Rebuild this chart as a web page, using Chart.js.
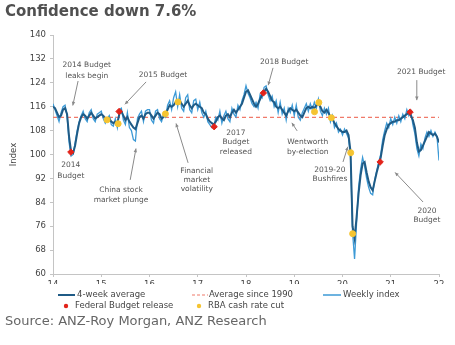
<!DOCTYPE html>
<html>
<head>
<meta charset="utf-8">
<script src="https://cdn.jsdelivr.net/npm/chart.js@4.4.1/dist/chart.umd.min.js"></script>
<style>
  body { margin: 0; background: #fff; }
  #wrap { position: relative; width: 455px; height: 345px; }
  #wrap canvas { position: absolute; left: 0; top: 0; }
  #title { position: absolute; left: 5px; top: 2px; font: bold 15px "DejaVu Sans", sans-serif; color: #505050; }
  #source { position: absolute; left: 5px; top: 313px; font: 13px "DejaVu Sans", sans-serif; color: #666; }
</style>
</head>
<body>
<div id="wrap">
  <canvas id="confidenceChart" width="455" height="345"></canvas>
  <div id="title">Confidence down 7.6%</div>
  <div id="source">Source: ANZ-Roy Morgan, ANZ Research</div>
</div>
<script>
'use strict';

// half-monthly readings, first one at start of 2014
const firstYear = 14;
const perYear = 24;

const weeklyIndex = [
    117, 115, 113, 111, 114, 116, 116.5, 113, 104, 99.5, 100, 104, 108, 111, 113, 114.5, 112, 111, 114, 115, 112, 111, 113.5, 114,
    114.5, 112, 110.5, 112, 113, 110, 109.5, 112, 109, 115, 115.5, 111.5, 110, 114, 109, 108, 105, 104.5, 112, 113.5, 114.5, 111, 114.5, 115,
    115, 111.5, 110.5, 114.5, 115, 112, 111, 113.5, 112.5, 116.5, 118, 115, 119, 121, 116, 120, 115.5, 114.5, 119, 120, 115, 114, 118, 118.5,
    115, 117.5, 114, 112.5, 114.5, 111, 110, 109, 109.5, 112.5, 111.5, 114.5, 110.5, 113, 114.5, 112, 111, 115.5, 113.5, 112.5, 116.5, 115, 118, 120,
    123, 120.5, 119, 117, 116, 117.5, 115.5, 120, 119, 122.5, 123, 120, 118, 119.5, 116, 118, 114, 117.5, 113.5, 115.5, 111.5, 115.5, 114, 116.5,
    113, 116.5, 112.5, 111.5, 114, 115.5, 117, 114.5, 117, 115, 117.5, 115.5, 118.5, 114.5, 113, 115.5, 113.5, 115.5, 111, 113, 109, 110.5, 107.5, 108.5,
    106.5, 108.5, 107, 105.5, 99, 74, 65, 77, 89, 95, 99, 96, 92, 89, 87, 86.5, 91.5, 94.5, 97.5, 100, 105, 108, 110.5, 109,
    112, 110, 112.5, 110.5, 113, 111, 113.5, 112, 115, 113, 114.5, 110, 107, 102, 99.5, 103.5, 102, 105.5, 107.5, 106, 108, 106, 107.5, 106,
    98
];

const fourWeekAverage = [
    116, 115.5, 114, 112.5, 113, 115, 115.5, 113.5, 106, 101, 100.5, 103, 107, 110.5, 112.5, 113.5, 113, 112, 113, 114, 113, 112, 112.5, 113,
    113.5, 113, 112, 111.5, 112, 111, 110.5, 111, 110.5, 113.5, 114.5, 113, 111.5, 112.5, 111, 110, 109, 108.5, 110.5, 112.5, 113, 112, 113.5, 114,
    114, 113, 112, 113, 114, 113.5, 112, 112.5, 113.5, 115, 116.5, 116, 116.5, 117.5, 117, 118, 117, 116, 117, 118, 116.5, 115.5, 116.5, 117,
    116.5, 116, 115.5, 114, 113.5, 112, 111, 110.5, 110, 111, 112.5, 113, 112, 111.5, 113, 113.5, 112.5, 114, 115, 114, 115, 116, 117, 119,
    121, 121.5, 120, 118.5, 117, 116, 117, 118.5, 120, 121, 122, 121, 119.5, 118, 117.5, 116, 115.5, 116, 115, 114, 113, 114.5, 115.5, 115,
    114.5, 115, 114, 113, 112.5, 114, 115.5, 116, 115.5, 116, 115.5, 116.5, 117, 116, 114.5, 114, 115, 114, 112.5, 112, 110.5, 109.5, 108.5, 108,
    107.5, 107.5, 108, 106.5, 101, 76, 72, 79, 87, 93, 97, 97.5, 94, 91, 89, 88, 91, 94, 96.5, 99, 103, 106.5, 108.5, 110,
    110.5, 111, 111, 111.5, 111.5, 112, 112.5, 113, 113.5, 114, 113, 111.5, 109, 104, 101, 101.5, 103, 104.5, 106, 107.5, 107, 106.5, 107, 106,
    104
];

const averageSince1990 = 112.4;

const budgetYears = [14.37, 15.37, 17.34, 18.36, 20.78, 21.40];
const budgetValues = [100.8, 114.4, 109.3, 120.6, 97.5, 114.2];

const rateCutYears = [15.12, 15.35, 16.33, 16.59, 19.42, 19.51, 19.77, 20.17, 20.21];
const rateCutValues = [111.6, 110.3, 113.6, 117.6, 114.3, 117.4, 112.3, 100.6, 73.5];

const yearTicks = [14, 15, 16, 17, 18, 19, 20, 21, 22];
const indexTicks = [60, 68, 76, 84, 92, 100, 108, 116, 124, 132, 140];

const darkBlue = '#1f5b86';
const lightBlue = '#3d9ad6';
const dashRed = '#f07a6a';
const budgetRed = '#e2231a';
const cutYellow = '#f5c431';

const toPoints = arr => arr.map((v, i) => ({ x: firstYear + i / perYear, y: v }));
const pairs = (xs, ys) => xs.map((x, i) => ({ x: x, y: ys[i] }));

// text notes with arrows, in data units
const notes = [
    { lines: ['2014 Budget', 'leaks begin'], x: 14.70, y: [130.0, 126.3], arrow: [14.52, 124.6, 14.41, 116.4] },
    { lines: ['2014', 'Budget'], x: 14.37, y: [96.5, 92.8] },
    { lines: ['2015 Budget'], x: 16.28, y: [126.6], arrow: [15.93, 124.3, 15.49, 116.8] },
    { lines: ['China stock', 'market plunge'], x: 15.41, y: [88.1, 84.8], arrow: [15.60, 91.5, 15.72, 102.0] },
    { lines: ['Financial', 'market', 'volatility'], x: 16.98, y: [94.5, 91.5, 88.5], arrow: [16.80, 97.2, 16.55, 110.4] },
    { lines: ['2017', 'Budget', 'released'], x: 17.79, y: [107.2, 104.2, 100.9] },
    { lines: ['2018 Budget'], x: 18.79, y: [131.0], arrow: [18.56, 129.0, 18.46, 123.2] },
    { lines: ['2021 Budget'], x: 21.63, y: [127.6], arrow: [21.54, 124.9, 21.54, 118.2] },
    { lines: ['Wentworth', 'by-election'], x: 19.28, y: [104.2, 100.8], arrow: [19.06, 107.9, 18.95, 110.6] },
    { lines: ['2019-20', 'Bushfires'], x: 19.74, y: [94.8, 91.8], arrow: [20.01, 97.5, 20.11, 102.6] },
    { lines: ['2020', 'Budget'], x: 21.75, y: [81.1, 78.1], arrow: [21.67, 84.1, 21.09, 94.0] }
];

const notesPlugin = {
    id: 'notes',
    afterDatasetsDraw(chart) {
        const ctx = chart.ctx;
        const xs = chart.scales.x, ys = chart.scales.y;
        ctx.save();
        ctx.font = '7.5px "DejaVu Sans", sans-serif';
        ctx.fillStyle = '#555';
        ctx.textAlign = 'center';
        ctx.textBaseline = 'middle';
        notes.forEach(n => {
            n.lines.forEach((t, i) => ctx.fillText(t, xs.getPixelForValue(n.x), ys.getPixelForValue(n.y[i])));
            if (n.arrow) {
                const x1 = xs.getPixelForValue(n.arrow[0]), y1 = ys.getPixelForValue(n.arrow[1]);
                const x2 = xs.getPixelForValue(n.arrow[2]), y2 = ys.getPixelForValue(n.arrow[3]);
                const a = Math.atan2(y2 - y1, x2 - x1);
                ctx.strokeStyle = '#8a8a8a';
                ctx.fillStyle = '#8a8a8a';
                ctx.lineWidth = 1;
                ctx.beginPath();
                ctx.moveTo(x1, y1);
                ctx.lineTo(x2, y2);
                ctx.stroke();
                ctx.beginPath();
                ctx.moveTo(x2, y2);
                ctx.lineTo(x2 - 4 * Math.cos(a - 0.45), y2 - 4 * Math.sin(a - 0.45));
                ctx.lineTo(x2 - 4 * Math.cos(a + 0.45), y2 - 4 * Math.sin(a + 0.45));
                ctx.closePath();
                ctx.fill();
                ctx.fillStyle = '#555';
            }
        });
        ctx.restore();
    }
};

// legend laid out in a grid like the original
const legendPlugin = {
    id: 'gridLegend',
    afterDraw(chart) {
        const ctx = chart.ctx;
        ctx.save();
        ctx.font = '8.5px "DejaVu Sans", sans-serif';
        ctx.textBaseline = 'middle';
        const line = (x1, x2, y, color, width, dash) => {
            ctx.strokeStyle = color;
            ctx.lineWidth = width;
            ctx.setLineDash(dash);
            ctx.beginPath();
            ctx.moveTo(x1, y);
            ctx.lineTo(x2, y);
            ctx.stroke();
            ctx.setLineDash([]);
        };
        const dot = (x, y, color) => {
            ctx.fillStyle = color;
            ctx.beginPath();
            ctx.arc(x, y, 2.2, 0, Math.PI * 2);
            ctx.fill();
        };
        line(58, 75, 295, darkBlue, 2, []);
        line(192, 208, 295, dashRed, 1.2, [3, 2]);
        line(323, 341, 295, lightBlue, 1.5, []);
        dot(66, 306, budgetRed);
        dot(199, 306, cutYellow);
        ctx.fillStyle = '#444';
        ctx.fillText('4-week average', 77, 295);
        ctx.fillText('Average since 1990', 209, 295);
        ctx.fillText('Weekly index', 343, 295);
        ctx.fillText('Federal Budget release', 75, 306);
        ctx.fillText('RBA cash rate cut', 208, 306);
        ctx.restore();
    }
};

const chartCanvas = document.querySelector('#confidenceChart');
new Chart(chartCanvas, {
    type: 'line',
    data: {
        datasets: [
            {
                label: 'Federal Budget release',
                type: 'scatter',
                data: pairs(budgetYears, budgetValues),
                pointStyle: 'rectRot',
                pointRadius: 3.2,
                backgroundColor: budgetRed,
                borderColor: budgetRed,
                order: 0
            },
            {
                label: 'RBA cash rate cut',
                type: 'scatter',
                data: pairs(rateCutYears, rateCutValues),
                pointRadius: 3,
                backgroundColor: cutYellow,
                borderColor: cutYellow,
                order: 0
            },
            {
                label: '4-week average',
                data: toPoints(fourWeekAverage),
                borderColor: darkBlue,
                borderWidth: 2,
                pointRadius: 0,
                tension: 0,
                order: 1
            },
            {
                label: 'Weekly index',
                data: toPoints(weeklyIndex),
                borderColor: lightBlue,
                borderWidth: 1.3,
                pointRadius: 0,
                tension: 0,
                order: 2
            },
            {
                label: 'Average since 1990',
                data: [{ x: 14, y: averageSince1990 }, { x: 22, y: averageSince1990 }],
                borderColor: dashRed,
                borderWidth: 1.2,
                borderDash: [4, 3],
                pointRadius: 0,
                order: 3
            }
        ]
    },
    options: {
        responsive: false,
        animation: false,
        layout: { padding: { left: 0, right: 16, top: 35, bottom: 61 } },
        plugins: {
            legend: { display: false },
            tooltip: { enabled: false }
        },
        scales: {
            x: {
                type: 'linear',
                min: 14,
                max: 22,
                afterBuildTicks: s => { s.ticks = yearTicks.map(v => ({ value: v })); },
                afterFit: s => { s.height = 10; },
                ticks: { color: '#444', font: { family: 'DejaVu Sans', size: 8.5 }, padding: 3 },
                grid: { drawOnChartArea: false, drawTicks: true, tickLength: 3, color: '#c4c4c4' },
                border: { color: '#c4c4c4' }
            },
            y: {
                min: 60,
                max: 140,
                afterBuildTicks: s => { s.ticks = indexTicks.map(v => ({ value: v })); },
                afterFit: s => { s.width = 53; },
                ticks: { color: '#444', font: { family: 'DejaVu Sans', size: 8.5 }, padding: 4 },
                grid: { drawOnChartArea: false, drawTicks: true, tickLength: 3, color: '#c4c4c4' },
                border: { color: '#c4c4c4' },
                title: { display: true, text: 'Index', color: '#444', font: { family: 'DejaVu Sans', size: 8.5 }, padding: { top: 9, bottom: 0 } }
            }
        }
    },
    plugins: [notesPlugin, legendPlugin]
});
</script>
</body>
</html>
